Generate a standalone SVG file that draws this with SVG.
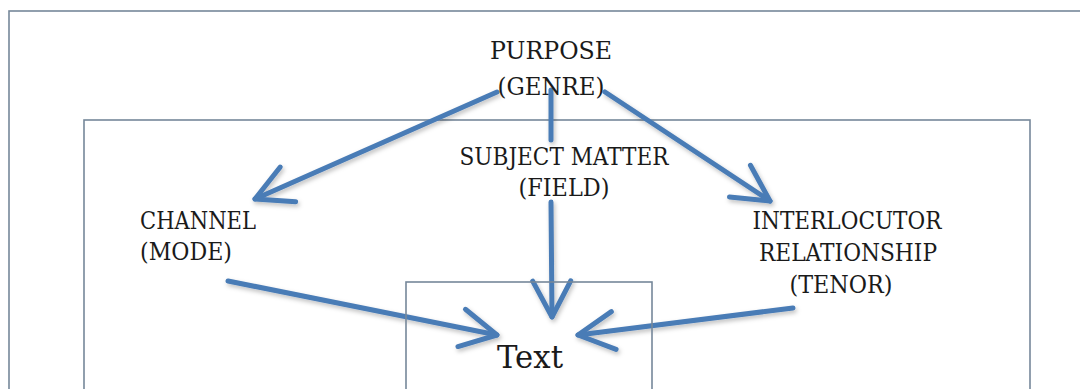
<svg xmlns="http://www.w3.org/2000/svg" width="1080" height="389" viewBox="0 0 1080 389">
<style>
.box{fill:none;stroke:#76889a;stroke-width:1.6}
.lbl{font-family:"DejaVu Serif","Liberation Serif",serif;font-size:24px;fill:#1a1a1a;text-anchor:middle}
.arr{fill:none;stroke:#4a7cb6;stroke-width:5;stroke-linecap:round;stroke-linejoin:round;filter:url(#sh)}
</style>
<defs>
<filter id="sh" filterUnits="userSpaceOnUse" x="0" y="0" width="1080" height="389">
<feDropShadow dx="1.5" dy="2.5" stdDeviation="2" flood-color="#000" flood-opacity="0.25"/>
</filter>
<marker id="ah" markerUnits="userSpaceOnUse" viewBox="-45 -25 50 50" refX="0" refY="0" markerWidth="50" markerHeight="50" orient="auto" overflow="visible">
<path d="M-36,-19 L0,0 L-36,19" fill="none" stroke="#4a7cb6" stroke-width="5" stroke-linecap="round" stroke-linejoin="round"/>
</marker>
</defs>
<rect width="1080" height="389" fill="#ffffff"/>
<g id="frame">
<rect class="box" x="9" y="11" width="1090" height="400"/>
<rect class="box" x="84" y="120" width="946" height="290"/>
</g>
<g id="connectors">
<path class="arr" d="M497,92 L255,199" marker-end="url(#ah)"/>
<path class="arr" d="M551,90 L551,140 M551,202 L552,317" marker-end="url(#ah)"/>
<path class="arr" d="M605,92 L770,201" marker-end="url(#ah)"/>
<path class="arr" d="M228,281 L497,335" marker-end="url(#ah)"/>
<path class="arr" d="M793,308 L578,335" marker-end="url(#ah)"/>
</g>
<g id="purpose">
<text class="lbl" x="551" y="59" textLength="122" lengthAdjust="spacingAndGlyphs">PURPOSE</text>
<text class="lbl" x="551" y="95" textLength="107" lengthAdjust="spacingAndGlyphs">(GENRE)</text>
</g>
<g id="subject">
<text class="lbl" x="564" y="165" textLength="209" lengthAdjust="spacingAndGlyphs">SUBJECT MATTER</text>
<text class="lbl" x="564" y="196" textLength="91" lengthAdjust="spacingAndGlyphs">(FIELD)</text>
</g>
<g id="channel">
<text class="lbl" x="198" y="229" textLength="116" lengthAdjust="spacingAndGlyphs">CHANNEL</text>
<text class="lbl" x="186" y="260" textLength="92" lengthAdjust="spacingAndGlyphs">(MODE)</text>
</g>
<g id="tenor">
<text class="lbl" x="847" y="229" textLength="189" lengthAdjust="spacingAndGlyphs">INTERLOCUTOR</text>
<text class="lbl" x="848" y="261" textLength="178" lengthAdjust="spacingAndGlyphs">RELATIONSHIP</text>
<text class="lbl" x="841" y="293" textLength="103" lengthAdjust="spacingAndGlyphs">(TENOR)</text>
</g>
<g id="text-node">
<rect class="box" x="406" y="282" width="246" height="130"/>
<text class="lbl" x="530" y="368" style="font-size:31px" textLength="66" lengthAdjust="spacingAndGlyphs">Text</text>
</g>
</svg>
